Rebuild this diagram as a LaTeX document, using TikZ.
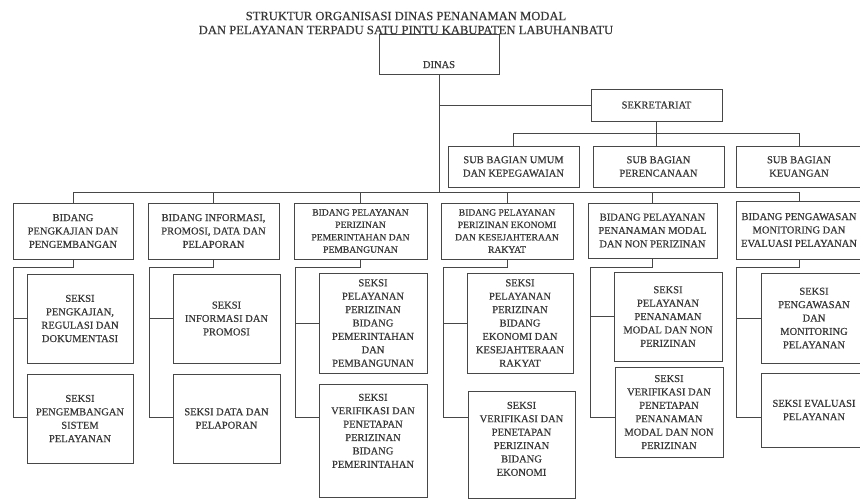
\documentclass[tikz,border=0pt]{standalone}
\usepackage{fontspec}
\setmainfont{Liberation Serif}[FakeBold=0.5]
\usetikzlibrary{positioning}
\tikzset{
  unitbox/.style={draw=black!72,line width=0.8pt,align=center,text=black!78,font=\fontsize{10.5}{13.4}\selectfont,inner sep=1.5pt},
  smallbox/.style={unitbox,font=\fontsize{9.6}{12.4}\selectfont,inner ysep=0.5pt},
  orgline/.style={draw=black!72,line width=0.8pt},
  titletext/.style={align=center,text=black!78,font=\fontsize{12.6}{14}\selectfont,inner sep=0pt}
}

\begin{document}
\begin{tikzpicture}[x=1pt,y=-1pt]
      \fill[white] (0,0) rectangle (860,499);
      \useasboundingbox (0,0) rectangle (860,499);
      \node[titletext] (title) at (406,23) {STRUKTUR ORGANISASI DINAS PENANAMAN MODAL\\DAN PELAYANAN TERPADU SATU PINTU KABUPATEN LABUHANBATU};
      % top level
      \node[unitbox,minimum width=120,minimum height=40,text height=31pt,text depth=3pt,inner ysep=3pt] (dinas) at (439,54) {DINAS};
      \node[unitbox,minimum width=131,minimum height=32] (sekre) at (656.5,105) {SEKRETARIAT};
      \node[unitbox,minimum width=131,minimum height=41] (s1) at (513.5,166.5) {SUB BAGIAN UMUM\\DAN KEPEGAWAIAN};
      \node[unitbox,minimum width=131,minimum height=41] (s2) at (658.5,166.5) {SUB BAGIAN\\PERENCANAAN};
      \node[unitbox,minimum width=126,minimum height=41] (s3) at (799,166.5) {SUB BAGIAN\\KEUANGAN};
      % bidang
      \node[unitbox,minimum width=120,minimum height=56] (b1) at (73,231) {BIDANG\\PENGKAJIAN DAN\\PENGEMBANGAN};
      \node[unitbox,minimum width=131,minimum height=56] (b2) at (213.5,231) {BIDANG INFORMASI,\\PROMOSI, DATA DAN\\PELAPORAN};
      \node[smallbox,minimum width=133,minimum height=56] (b3) at (360.5,231) {BIDANG PELAYANAN\\PERIZINAN\\PEMERINTAHAN DAN\\PEMBANGUNAN};
      \node[smallbox,minimum width=132,minimum height=56] (b4) at (507,231) {BIDANG PELAYANAN\\PERIZINAN EKONOMI\\DAN KESEJAHTERAAN\\RAKYAT};
      \node[unitbox,minimum width=129,minimum height=55] (b5) at (652.5,230.5) {BIDANG PELAYANAN\\PENANAMAN MODAL\\DAN NON PERIZINAN};
      \node[unitbox,minimum width=126,minimum height=58] (b6) at (799,230) {BIDANG PENGAWASAN\\MONITORING DAN\\EVALUASI PELAYANAN};
      % seksi
      \node[unitbox,minimum width=106,minimum height=89] (ca1) at (80,318.5) {SEKSI\\PENGKAJIAN,\\REGULASI DAN\\DOKUMENTASI};
      \node[unitbox,minimum width=106,minimum height=89] (cb1) at (80,418.5) {SEKSI\\PENGEMBANGAN\\SISTEM\\PELAYANAN};
      \node[unitbox,minimum width=107,minimum height=89] (ca2) at (226.5,318.5) {SEKSI\\INFORMASI DAN\\PROMOSI};
      \node[unitbox,minimum width=107,minimum height=89] (cb2) at (226.5,418.5) {SEKSI DATA DAN\\PELAPORAN};
      \node[unitbox,minimum width=108,minimum height=100] (ca3) at (373,323) {SEKSI\\PELAYANAN\\PERIZINAN\\BIDANG\\PEMERINTAHAN\\DAN\\PEMBANGUNAN};
      \node[unitbox,minimum width=108,minimum height=113] (cb3) at (373,440.5) {SEKSI\\VERIFIKASI DAN\\PENETAPAN\\PERIZINAN\\BIDANG\\PEMERINTAHAN\\[6pt]};
      \node[unitbox,minimum width=106,minimum height=100] (ca4) at (520,323) {SEKSI\\PELAYANAN\\PERIZINAN\\BIDANG\\EKONOMI DAN\\KESEJAHTERAAN\\RAKYAT};
      \node[unitbox,minimum width=107,minimum height=107] (cb4) at (521.5,444.5) {SEKSI\\VERIFIKASI DAN\\PENETAPAN\\PERIZINAN\\BIDANG\\EKONOMI\\[-2pt]};
      \node[unitbox,minimum width=108,minimum height=89] (ca5) at (668,316.5) {SEKSI\\PELAYANAN\\PENANAMAN\\MODAL DAN NON\\PERIZINAN};
      \node[unitbox,minimum width=108,minimum height=90] (cb5) at (669,412) {SEKSI\\VERIFIKASI DAN\\PENETAPAN\\PENANAMAN\\MODAL DAN NON\\PERIZINAN};
      \node[unitbox,minimum width=106,minimum height=90] (ca6) at (814,318) {SEKSI\\PENGAWASAN\\DAN\\MONITORING\\PELAYANAN};
      \node[unitbox,minimum width=106,minimum height=74] (cb6) at (814,410) {SEKSI EVALUASI\\PELAYANAN};
      % connectors
      \path (dinas.south) ++(0,118) coordinate (bus);
      \path (sekre.south) ++(0,12) coordinate (sbus);
      \draw[orgline] (dinas.south) -- (bus);
      \draw[orgline] (sekre.west) -- (sekre.west -| dinas.south);
      \draw[orgline] (sekre.south) -- (sekre.south |- s2.north);
      \draw[orgline] (s1.north) |- (sbus) -| (s3.north);
      \draw[orgline] (b1.north) |- (bus) -| (b6.north);
      \foreach \b in {b2,b3,b4,b5}
        \draw[orgline] (\b.north) -- (\b.north |- bus);
      \foreach \i/\x in {1/13,2/149,3/295,4/443,5/590,6/736}{
        \coordinate (t\i) at (\x,267);
        \coordinate (e\i) at (\x,417);
        \draw[orgline] (b\i.south) |- (t\i) -- (e\i) -- (e\i -| cb\i.west);
        \draw[orgline] (ca\i.west) -- (ca\i.west -| t\i);
      }
    \end{tikzpicture}
\end{document}
